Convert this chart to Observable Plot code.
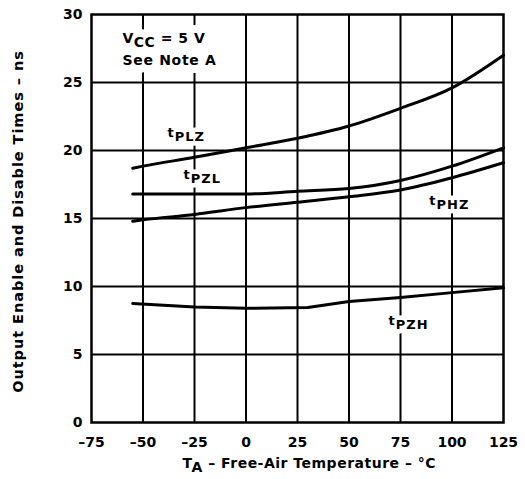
<!DOCTYPE html>
<html><head><meta charset="utf-8">
<script src="https://cdn.jsdelivr.net/npm/d3@7"></script>
<script src="https://cdn.jsdelivr.net/npm/@observablehq/plot@0.6"></script>
<style>body{margin:0;background:#fff}</style>
</head><body><div id="chart"></div>
<script>
const xTicks = [-75, -50, -25, 0, 25, 50, 75, 100, 125];
const yTicks = [0, 5, 10, 15, 20, 25, 30];
const temps = [-55, -50, -25, 0, 25, 50, 75, 100, 125];
const tPLZ = [18.7, 18.85, 19.5, 20.2, 20.9, 21.8, 23.1, 24.6, 27.0];
const tPZL = [16.8, 16.8, 16.8, 16.8, 17.0, 17.2, 17.8, 18.85, 20.2];
const tPHZ = [14.8, 14.9, 15.3, 15.8, 16.2, 16.6, 17.1, 18.0, 19.1];
const tempsPZH = [-55, -25, 0, 30, 50, 75, 100, 125];
const tPZH = [8.75, 8.5, 8.4, 8.45, 8.9, 9.2, 9.55, 9.9];
const labelNames = ["t|PLZ", "t|PZL", "t|PHZ", "t|PZH"];
const labelX = [-38.1, -30.3, 89, 69.2];
const labelY = [21.3, 18.2, 16.3, 7.45];
const noteLines = ["V|CC| = 5 V", "See Note A"];
const noteX = [-60, -60];
const noteY = [28.25, 26.6];
const xLabel = "T|A| – Free-Air Temperature – °C";
const yLabel = "Output Enable and Disable Times – ns";

const curves = [
  ...temps.map((t, i) => ({T: t, v: tPLZ[i], s: "tPLZ"})),
  ...temps.map((t, i) => ({T: t, v: tPZL[i], s: "tPZL"})),
  ...temps.map((t, i) => ({T: t, v: tPHZ[i], s: "tPHZ"}))
];
const pzh = tempsPZH.map((t, i) => ({T: t, v: tPZH[i], s: "tPZH"}));
const labels = labelNames.map((n, i) => ({text: n, x: labelX[i], y: labelY[i]}));
const notes = noteLines.map((n, i) => ({text: n, x: noteX[i], y: noteY[i]}));

const font = "'DejaVu Sans', Verdana, sans-serif";
const fmt = d => d < 0 ? "–" + Math.abs(d) : String(d);
const noteStyle = {x: "x", y: "y", text: "text", textAnchor: "start", fontSize: 14, fontWeight: "bold"};
const labelStyle = {x: "x", y: "y", text: "text", textAnchor: "start", fontSize: 13, fontWeight: "bold"};
const plot = Plot.plot({
  width: 525, height: 479,
  marginLeft: 91, marginRight: 22, marginTop: 14, marginBottom: 57,
  style: {fontFamily: font, fontWeight: "bold", fontSize: "14px", background: "#fff", color: "#000"},
  x: {domain: [-75, 125], ticks: xTicks, tickFormat: fmt},
  y: {domain: [0, 30], ticks: yTicks},
  marks: [
    Plot.ruleY(yTicks.slice(1, -1), {stroke: "#000", strokeWidth: 2}),
    Plot.ruleX(xTicks.slice(1, -1), {stroke: "#000", strokeWidth: 2}),
    // white halos that interrupt the grid behind the annotations
    Plot.text(notes, {...noteStyle, fill: "#fff", stroke: "#fff", strokeWidth: 16}),
    Plot.text(labels, {...labelStyle, fill: "#fff", stroke: "#fff", strokeWidth: 9}),
    Plot.text(notes, {...noteStyle, fill: "#000"}),
    Plot.text(labels, {...labelStyle, fill: "#000"}),
    Plot.line(curves, {x: "T", y: "v", z: "s", stroke: "#000", strokeWidth: 3, curve: "monotone-x"}),
    Plot.line(pzh, {x: "T", y: "v", stroke: "#000", strokeWidth: 3, curve: "linear", strokeLinejoin: "round"}),
    Plot.frame({stroke: "#000", strokeWidth: 2.5}),
    Plot.axisX({ticks: xTicks, tickSize: 0, tickPadding: 15, label: null, fontSize: 14, fontWeight: "bold", tickFormat: fmt}),
    Plot.axisY({ticks: yTicks, tickSize: 0, tickPadding: 9, label: null, fontSize: 14, fontWeight: "bold"}),
    Plot.text([xLabel], {frameAnchor: "bottom-left", dx: 91, dy: 45, textAnchor: "start", fontSize: 14, fontWeight: "bold", fill: "#000"}),
    Plot.text([yLabel], {frameAnchor: "left", dx: -73, dy: 3, rotate: -90, textAnchor: "middle", fontSize: 14.5, fontWeight: "bold", fill: "#000"})
  ]
});
document.getElementById("chart").appendChild(plot);

const spacing = new Map([[xLabel, 0.5], [yLabel, 0.95], [noteLines[0], 0.5], [noteLines[1], 0.7]]);
labelNames.forEach(n => spacing.set(n, 1));

// letter spacing + subscripts for segments separated by "|"
d3.select(plot).selectAll("text").each(function () {
  const el = d3.select(this);
  const txt = this.textContent;
  if (spacing.has(txt)) el.style("letter-spacing", spacing.get(txt) + "px");
  if (!txt.includes("|") || this.querySelector("tspan")) return;
  const parts = txt.split("|");
  el.text(null);
  parts.forEach((p, i) => {
    if (!p) return;
    const ts = el.append("tspan").text(p);
    if (i % 2 === 1) ts.attr("dy", 4);
    else if (i > 0) ts.attr("dy", -4);
  });
});
</script>
</body></html>
